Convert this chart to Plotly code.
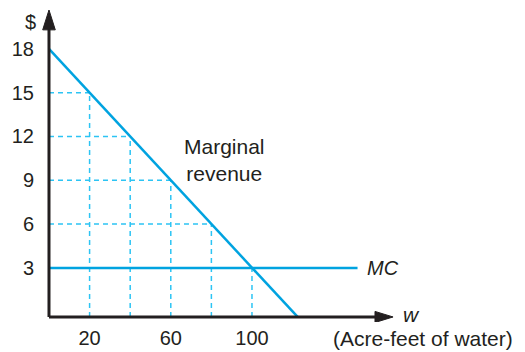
import plotly.graph_objects as go

# Data
mr_q = [0, 100, 122.5]
mr_p = [18, 3, -0.36]
mc_q = [0, 152]
mc_p = [3, 3]
guide_q = [20, 40, 60, 80, 100]
guide_p = [15, 12, 9, 6, 3]
x_ticks = [20, 60, 100]
y_ticks = [3, 6, 9, 12, 15, 18]

LINE = "#00a3e0"
DASH = "#2cc4f4"
INK = "#231f20"
FONT = "Liberation Sans, Arial, sans-serif"

Y_AX = -0.36  # position of horizontal axis line
X_TOP = 20.66
X_END = 169.5

fig = go.Figure()

# dashed guides
for q, p in zip(guide_q, guide_p):
    fig.add_trace(go.Scatter(x=[q, q], y=[Y_AX, p], mode="lines",
                             line=dict(color=DASH, width=1.5, dash="5px,4px"),
                             hoverinfo="skip", showlegend=False))
    if p != 3:
        fig.add_trace(go.Scatter(x=[0, q], y=[p, p], mode="lines",
                                 line=dict(color=DASH, width=1.5, dash="5px,4px"),
                                 hoverinfo="skip", showlegend=False))

fig.add_trace(go.Scatter(x=mc_q, y=mc_p, mode="lines",
                         line=dict(color=LINE, width=2.5), showlegend=False))
fig.add_trace(go.Scatter(x=mr_q, y=mr_p, mode="lines",
                         line=dict(color=LINE, width=2.5), showlegend=False))

# axes lines and arrows
fig.add_shape(type="line", x0=0, x1=0, y0=Y_AX, y1=19.5, line=dict(color=INK, width=3))
fig.add_shape(type="line", x0=0, x1=161, y0=Y_AX, y1=Y_AX, line=dict(color=INK, width=3))
fig.add_shape(type="path", path=f"M -3.1,19.3 L 0,{X_TOP} L 3.1,19.3 Z",
              fillcolor=INK, line=dict(color=INK, width=1))
fig.add_shape(type="path", path=f"M 160.6,{Y_AX-0.38} L {X_END},{Y_AX} L 160.6,{Y_AX+0.38} Z",
              fillcolor=INK, line=dict(color=INK, width=1))

def txt(x, y, s, italic=False, size=21, **kw):
    fig.add_annotation(x=x, y=y, text=(f"<i>{s}</i>" if italic else s), showarrow=False,
                       xanchor="center", yanchor="middle",
                       font=dict(family=FONT, size=size, color=INK), **kw)

txt(-0.0206, 0.962, "$", size=20, xref="paper", yref="paper")
txt(86.5, 10.4, "Marginal<br>revenue")
txt(164.5, 3.0, "MC", italic=True, size=20)
txt(178.5, -0.22, "w", italic=True)
txt(184.2, -0.053, "(Acre-feet of water)", yref="paper")

# page body has an 8px margin, so the figure is drawn 8px smaller and shifted
fig.update_layout(
    width=517, height=344,
    margin=dict(l=32, r=0, t=2, b=30),
    paper_bgcolor="white", plot_bgcolor="white",
    font=dict(family=FONT, size=20, color=INK),
    xaxis=dict(range=[-4.43, 234.5], showgrid=False, zeroline=False, showline=False,
               tickvals=x_ticks, ticks="", ticklabelstandoff=2, automargin=False,
               tickfont=dict(size=20, color=INK)),
    yaxis=dict(range=[-0.705, X_TOP], showgrid=False, zeroline=False, showline=False,
               tickvals=y_ticks, ticks="", ticklabelstandoff=5, automargin=False,
               tickfont=dict(size=20, color=INK)),
)

fig.write_html("out.html")
